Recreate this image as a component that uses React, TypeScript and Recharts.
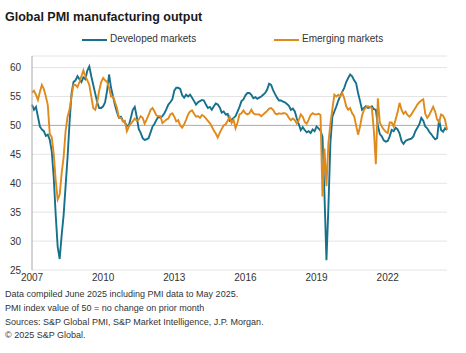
import { LineChart, Line, XAxis, YAxis, CartesianGrid, ReferenceLine } from "recharts";

// monthly, Nov 2007 - May 2025
const developed = [
  53.6, 52.7, 53.2, 51.5, 49.8, 49.3, 49.0, 48.2, 48.4, 47.5,
  45.5, 41.0, 34.5, 29.0, 26.9, 31.0, 34.5, 39.5, 44.5, 50.5,
  55.5, 57.5, 57.8, 58.5, 58.0, 57.5, 58.3, 58.0, 59.5, 60.2,
  58.5, 57.0, 55.5, 54.0, 53.0, 53.0, 53.3, 54.0, 56.0, 58.8,
  56.5, 55.0, 53.5, 52.3, 51.3, 51.5, 50.8, 50.5, 49.9, 50.0,
  51.3, 52.7, 53.2, 51.5, 49.4, 48.7, 47.8, 47.5, 47.6, 47.8,
  48.8, 49.8, 50.3, 51.0, 51.5, 51.3, 51.6, 52.1, 52.8, 53.6,
  54.0, 54.5, 56.0, 56.5, 56.5, 56.3, 55.2, 54.8, 55.3, 55.0,
  55.3, 54.8, 54.2, 53.6, 54.0, 54.2, 54.4, 54.3, 53.6, 53.0,
  53.2, 52.7, 53.3, 53.8, 53.6, 53.1, 52.2, 52.4, 51.9, 52.0,
  50.8, 51.0, 51.3, 51.6, 52.4, 53.2, 54.2, 54.5, 55.2, 55.6,
  55.6, 55.3, 54.7, 54.9, 54.6, 54.8, 55.0, 55.3, 55.6, 56.2,
  57.2, 57.0, 56.1, 55.4, 54.8, 54.3, 54.3, 54.1, 54.0, 53.7,
  53.4, 52.7, 52.9, 52.4, 51.2, 50.2, 49.2, 49.7, 49.2, 48.8,
  49.0, 48.7, 49.3, 49.0, 49.8, 49.5, 49.1, 48.0, 38.0, 26.7,
  36.0, 47.0, 51.5, 52.4, 53.3, 54.3, 55.1, 55.8, 56.5, 57.5,
  58.2, 58.8, 58.5, 57.8, 57.3, 55.6, 54.2, 52.7, 53.0, 53.3,
  53.0, 53.1, 53.3, 52.8, 52.7, 50.0, 48.5, 48.1, 47.4, 47.2,
  47.3, 48.1, 49.2, 49.0, 49.6, 49.3, 48.6, 47.3, 46.8, 47.3,
  47.5, 47.6, 47.7, 48.1, 49.0, 49.6, 50.2, 51.3, 50.8, 49.8,
  49.5, 48.9, 48.5, 48.0, 47.6, 47.8, 51.0, 49.2, 48.9, 49.5,
  49.2,
];

const emerging = [
  55.7, 56.0, 55.3, 54.4, 55.8, 57.0, 56.3, 55.0, 53.5, 48.5,
  48.0, 45.0, 40.5, 37.2, 38.0, 41.7, 44.5, 49.0, 51.5, 52.8,
  55.0, 57.0, 57.0, 56.6, 57.5, 58.5, 59.5, 58.5, 57.8, 57.0,
  55.0, 53.0, 52.7, 54.0, 56.0, 57.5, 58.2, 57.8, 57.5, 56.5,
  55.0, 55.0, 54.0, 53.0, 51.3, 51.3, 50.7, 50.8, 49.0, 49.8,
  50.3, 50.7, 51.2, 50.8, 51.0, 51.6, 51.3, 50.3, 51.0, 51.8,
  52.7, 53.0, 52.4, 51.7, 51.6, 51.6, 50.4, 50.7, 51.0, 51.2,
  51.9, 52.1, 51.5, 50.7, 50.9, 50.0, 49.6, 50.2, 51.0, 51.9,
  52.4, 52.6, 52.0, 51.5, 51.6, 51.3, 51.8, 51.6, 51.2, 50.8,
  50.4, 49.8, 49.1, 48.6, 47.9, 48.7, 49.4, 50.0, 50.2, 50.8,
  51.5, 50.4, 51.0, 49.5, 50.5, 51.9, 52.1, 52.6, 52.1, 51.9,
  52.1, 52.7, 52.1, 51.9, 51.9, 51.9, 51.6, 51.9, 52.2, 52.5,
  52.9, 53.0, 52.7, 52.1, 51.9, 52.1, 52.0, 52.1, 52.1, 51.9,
  51.3, 50.9, 51.2, 50.9, 50.3, 50.9, 51.9, 51.5, 50.6, 50.3,
  51.0, 51.8, 52.1, 51.9, 51.9, 52.0, 51.8, 37.7, 46.0, 39.5,
  47.0, 50.3, 52.8, 55.3, 55.0, 55.3, 55.0, 55.6, 54.7, 53.3,
  52.7, 53.0, 52.1, 51.6, 50.0, 48.4, 49.8, 51.7, 52.7, 53.1,
  53.3, 53.2, 53.0, 49.0, 43.3, 54.7, 50.5, 49.8, 49.3, 48.9,
  48.7, 50.5, 50.5, 49.8, 51.0, 52.3, 53.9, 52.7, 52.0, 52.4,
  51.8, 51.5, 51.9, 52.5, 53.0, 53.6, 54.0, 54.3, 54.5, 52.0,
  51.3, 51.8, 52.5, 53.2, 52.4, 51.0, 50.6, 51.9, 51.7, 51.0,
  49.3,
];

const yearTicks = [0, 36, 72, 108, 144, 180];
const yearLabels = ["2007", "2010", "2013", "2016", "2019", "2022"];
const yTicks = [25, 30, 35, 40, 45, 50, 55, 60];

const notes = [
  "Data compiled June 2025 including PMI data to May 2025.",
  "PMI index value of 50 = no change on prior month",
  "Sources: S&P Global PMI, S&P Market Intelligence, J.P. Morgan.",
  "\u00a9 2025 S&P Global.",
];

const BLUE = "#17708c";
const ORANGE = "#e08a1c";

const data = developed.map((v, i) => ({ i, developed: v, emerging: emerging[i] }));

const font = "'Liberation Sans', Arial, sans-serif";

export default function App() {
  return (
    <div
      style={{
        position: "absolute",
        left: 0,
        top: 0,
        width: 466,
        height: 353,
        background: "#fff",
        fontFamily: font,
        color: "#222",
        overflow: "hidden",
      }}
    >
      <div style={{ position: "absolute", left: 5, top: 10, fontSize: 12.5, fontWeight: "bold", color: "#1a1a1a" }}>
        Global PMI manufacturing output
      </div>

      {/* legend */}
      <div style={{ position: "absolute", left: 82, top: 39, width: 25, height: 2, background: BLUE }} />
      <div style={{ position: "absolute", left: 110, top: 33, fontSize: 10, color: "#333" }}>Developed markets</div>
      <div style={{ position: "absolute", left: 274, top: 39, width: 25, height: 2, background: ORANGE }} />
      <div style={{ position: "absolute", left: 302, top: 33, fontSize: 10, color: "#333" }}>Emerging markets</div>

      <div style={{ position: "absolute", left: 0, top: 0 }}>
        <LineChart width={466} height={353} data={data} margin={{ top: 56, right: 19, bottom: 63, left: 8 }}>
          <CartesianGrid horizontal vertical={false} stroke="#e4e4e4" />
          <XAxis
            dataKey="i"
            type="number"
            domain={[0, 210]}
            ticks={yearTicks}
            tickFormatter={(v) => yearLabels[yearTicks.indexOf(v)]}
            axisLine={false}
            tickLine={false}
            tickSize={0}
            tickMargin={4}
            height={20}
            tick={{ fontSize: 10, fill: "#333", fontFamily: font }}
          />
          <YAxis
            type="number"
            domain={[25, 62]}
            ticks={yTicks}
            width={24}
            axisLine={{ stroke: "#a8a8a8" }}
            tickLine={false}
            tickSize={0}
            tickMargin={11}
            tick={{ fontSize: 10, fill: "#333", fontFamily: font }}
          />
          <ReferenceLine y={50} stroke="#b0b0b0" strokeWidth={1} />
          <Line
            dataKey="developed"
            stroke={BLUE}
            strokeWidth={1.9}
            dot={false}
            type="linear"
            isAnimationActive={false}
          />
          <Line
            dataKey="emerging"
            stroke={ORANGE}
            strokeWidth={1.9}
            dot={false}
            type="linear"
            isAnimationActive={false}
          />
        </LineChart>
      </div>

      <div style={{ position: "absolute", left: 5, top: 288, fontSize: 9, lineHeight: "13.8px", color: "#333" }}>
        {notes.map((n) => (
          <div key={n}>{n}</div>
        ))}
      </div>
    </div>
  );
}
